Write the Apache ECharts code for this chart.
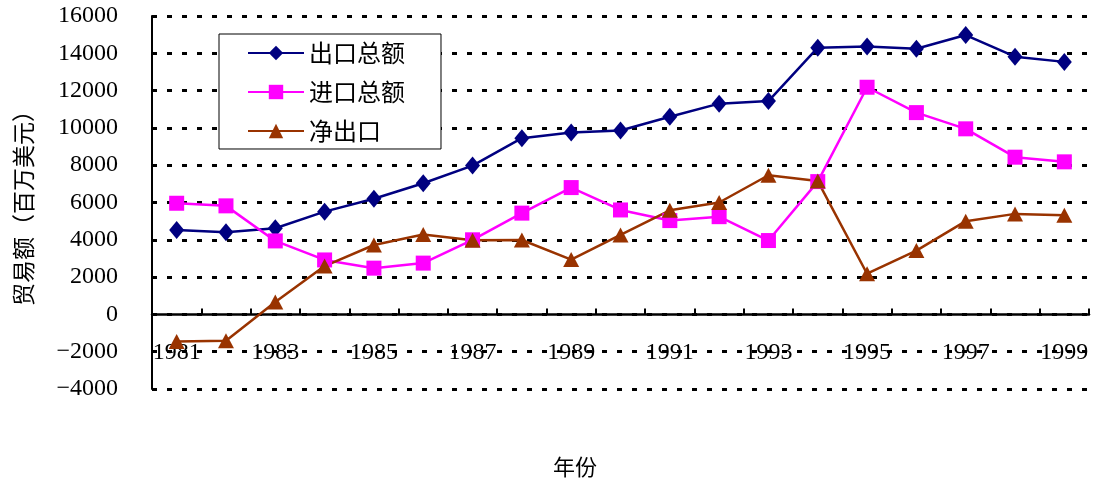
<!DOCTYPE html>
<html>
<head>
<meta charset="utf-8">
<script src="https://cdn.jsdelivr.net/npm/echarts@6/dist/echarts.min.js"></script>
<style>
  html, body { margin: 0; padding: 0; background: #fff; }
  #chart { width: 1095px; height: 483px; }
</style>
</head>
<body>
<div id="chart"></div>
<script>
// 1981-1999 年贸易额（百万美元）
const years = ['1981','1982','1983','1984','1985','1986','1987','1988','1989','1990',
               '1991','1992','1993','1994','1995','1996','1997','1998','1999'];
const exportTotal = [4530, 4400, 4620, 5510, 6200, 7030, 7980, 9450, 9750, 9860,
                     10600, 11300, 11440, 14300, 14360, 14240, 14980, 13820, 13540];
const importTotal = [5960, 5820, 3940, 2920, 2480, 2750, 4000, 5430, 6800, 5600,
                     5030, 5240, 3960, 7120, 12180, 10820, 9950, 8430, 8180];
const netExport = [-1450, -1410, 660, 2590, 3720, 4280, 3980, 3990, 2940, 4260,
                   5580, 6000, 7460, 7150, 2180, 3420, 5000, 5390, 5320];

// value axis range
const yMin = -4000, yMax = 16000, yStep = 2000;

const numFont = '"Liberation Serif", "DejaVu Serif", serif';
const cjkFont = '"Noto Sans CJK SC", "Noto Sans", sans-serif';

const gridTop = 16, gridBottom = 94, chartH = 483;
const plotH = chartH - gridTop - gridBottom;
// the category axis sits on the zero line of the value axis
const zeroOffset = -plotH * (0 - yMin) / (yMax - yMin);

const chart = echarts.init(document.getElementById('chart'), null, { renderer: 'canvas' });

chart.setOption({
  animation: false,
  backgroundColor: '#fff',
  grid: { left: 152, right: 6, top: gridTop, bottom: gridBottom, containLabel: false },
  legend: {
    orient: 'vertical',
    left: 219,
    top: 34,
    padding: [7, 36, 6, 28],
    itemGap: 15,
    itemWidth: 56,
    itemHeight: 18,
    borderColor: '#000',
    borderWidth: 1,
    backgroundColor: '#fff',
    textStyle: { fontFamily: cjkFont, fontSize: 24, color: '#000' },
    data: ['出口总额', '进口总额', '净出口']
  },
  xAxis: {
    type: 'category',
    data: years,
    boundaryGap: true,
    offset: zeroOffset,
    z: 3,
    axisLine: { onZero: false, lineStyle: { color: '#000', width: 2.5 } },
    axisTick: { show: true, inside: true, length: 6, interval: 0, lineStyle: { color: '#000', width: 2 } },
    axisLabel: { interval: 1, margin: 26, fontFamily: numFont, fontSize: 24, color: '#000' },
    splitLine: { show: false }
  },
  yAxis: {
    type: 'value',
    min: yMin,
    max: yMax,
    interval: yStep,
    name: '贸易额（百万美元）',
    nameLocation: 'middle',
    nameRotate: 90,
    nameGap: 117,
    nameTextStyle: { fontFamily: cjkFont, fontSize: 23, color: '#000' },
    axisLine: { show: true, onZero: false, lineStyle: { color: '#000', width: 2 } },
    axisTick: { show: false },
    axisLabel: {
      margin: 34,
      fontFamily: numFont,
      fontSize: 24,
      color: '#000',
      formatter: v => (v < 0 ? '\u2212' + Math.abs(v) : String(v))
    },
    splitLine: { show: true, lineStyle: { color: '#000', width: 3, type: [5, 10] } }
  },
  graphic: [{
    type: 'text',
    left: 553,
    top: 456,
    style: { text: '年份', font: '22px ' + cjkFont, fill: '#000' }
  }],
  series: [
    {
      name: '出口总额',
      type: 'line',
      data: exportTotal,
      symbol: 'diamond',
      symbolSize: [15, 18],
      lineStyle: { color: '#000080', width: 2.5 },
      itemStyle: { color: '#000080' }
    },
    {
      name: '进口总额',
      type: 'line',
      data: importTotal,
      symbol: 'rect',
      symbolSize: 15,
      lineStyle: { color: '#ff00ff', width: 2.5 },
      itemStyle: { color: '#ff00ff' }
    },
    {
      name: '净出口',
      type: 'line',
      data: netExport,
      symbol: 'triangle',
      symbolSize: [16, 15],
      lineStyle: { color: '#993300', width: 2.5 },
      itemStyle: { color: '#993300' }
    }
  ]
});
</script>
</body>
</html>
